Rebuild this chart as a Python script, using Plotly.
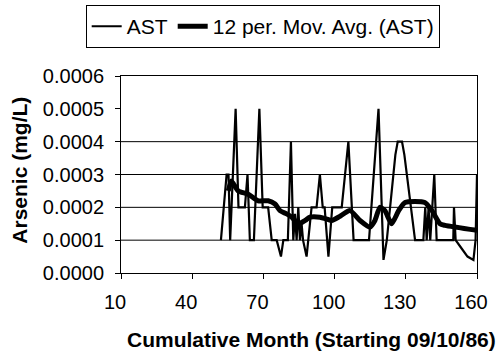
import plotly.graph_objects as go

# AST series (month, arsenic mg/L)
ast_month = [52.1, 54.5, 55.3, 56.0, 58.3, 59.5, 62.2, 63.3, 64.3, 66.0, 68.3, 69.7, 72.0, 73.5,
             75.6, 77.4, 78.4, 80.3, 81.6, 82.6, 83.3, 84.0, 84.7, 85.4, 86.1, 86.7, 88.2, 90.3,
             92.4, 93.8, 95.0, 95.8, 97.4, 99.0, 103.0, 105.8, 108.0, 114.5, 118.5, 120.6, 122.0,
             125.6, 126.6, 128.4, 129.4, 133.9, 137.4, 138.2, 138.8, 139.6, 140.3, 141.0, 142.0,
             143.0, 145.0, 150.0, 150.3, 151.0, 153.0, 156.0, 158.5, 159.4, 160.0]
ast_value = [0.0001, 0.0003, 0.0003, 0.0001, 0.0005, 0.0002, 0.0002, 0.0003, 0.0001, 0.0001,
             0.0005, 0.0002, 0.0002, 0.0001, 0.0001, 0.00005, 0.0001, 0.0001, 0.0004, 0.0001,
             0.00018, 0.0001, 0.0002, 0.0001, 0.00015, 0.0001, 0.00005, 0.0002, 0.0002, 0.0003,
             0.0002, 0.0002, 0.00005, 0.0002, 0.0002, 0.0004, 0.0001, 0.0001, 0.0005, 0.00004,
             0.0001, 0.00036, 0.0004, 0.0004, 0.00036, 0.0001, 0.0001, 0.0002, 0.0001, 0.0002,
             0.0001, 0.0002, 0.0003, 0.0001, 0.0001, 0.0001, 0.0002, 0.0001, 0.00008, 0.00005,
             0.00004, 0.0001, 0.0003]

# 12 per. moving average
ma_month = [55.2, 56.5, 57.5, 59.4, 63.6, 67.8, 72.0, 74.9, 77.0, 79.8, 82.0, 84.8, 87.6, 89.6,
            93.8, 96.5, 98.8, 102.3, 106.5, 110.7, 114.9, 117.0, 119.1, 121.2, 124.0, 127.0,
            129.7, 138.0, 141.0, 144.4, 146.5, 160.0]
ma_value = [0.00025, 0.00028, 0.00027, 0.00025, 0.00024, 0.00022, 0.00022, 0.00021, 0.00019,
            0.00018, 0.00017, 0.00015, 0.00016, 0.00017, 0.00017, 0.000165, 0.00016, 0.000173,
            0.00019, 0.00016, 0.00014, 0.00016, 0.0002, 0.00019, 0.00015, 0.00019, 0.000215,
            0.000215, 0.00019, 0.00015, 0.000145, 0.00013]

x_ticks = [10, 40, 70, 100, 130, 160]
y_ticks = [0.0, 0.0001, 0.0002, 0.0003, 0.0004, 0.0005, 0.0006]
y_ticktext = ["0.0000", "0.0001", "0.0002", "0.0003", "0.0004", "0.0005", "0.0006"]
grid_levels = [0.0001, 0.0002, 0.0003, 0.0004]

FONT = "Liberation Sans, Arial, sans-serif"

fig = go.Figure()
fig.add_trace(go.Scatter(x=ast_month, y=ast_value, mode="lines", name="AST",
                         line=dict(color="black", width=2.2)))
fig.add_trace(go.Scatter(x=ma_month, y=ma_value, mode="lines", name="12 per. Mov. Avg. (AST)",
                         line=dict(color="black", width=5, shape="spline", smoothing=0.6)))

for g in grid_levels:
    fig.add_shape(type="line", xref="paper", x0=0, x1=1, yref="y", y0=g, y1=g,
                  line=dict(color="black", width=1), layer="below")

fig.update_layout(
    width=498, height=360,
    margin=dict(l=121, r=21, t=76, b=87, autoexpand=False),
    paper_bgcolor="white", plot_bgcolor="white",
    font=dict(family=FONT, size=18, color="black"),
    showlegend=True,
    legend=dict(orientation="h", x=0.398, xanchor="center", y=1.36, yanchor="top",
                bordercolor="black", borderwidth=1, bgcolor="white",
                font=dict(size=21), tracegroupgap=0),
    xaxis=dict(range=[10, 160], tickmode="array", tickvals=x_ticks, showgrid=False,
               zeroline=False, showline=True, linecolor="black", linewidth=1, mirror=True,
               ticks="outside", ticklen=5, tickcolor="black", tickfont=dict(size=20),
               ticklabelstandoff=6, ticklabelshift=-6),
    yaxis=dict(range=[0, 0.0006], tickmode="array", tickvals=y_ticks, ticktext=y_ticktext,
               showgrid=False, zeroline=False, showline=True, linecolor="black", linewidth=1,
               mirror=True, ticks="outside", ticklen=5, tickcolor="black", tickfont=dict(size=20),
               ticklabelstandoff=7),
    annotations=[
        dict(text="<b>Cumulative Month (Starting 09/10/86)</b>", xref="paper", yref="paper",
             x=0.536, y=-0.34, xanchor="center", yanchor="middle", showarrow=False,
             font=dict(size=21)),
        dict(text="<b>Arsenic (mg/L)</b>", xref="paper", yref="paper",
             x=-0.284, y=0.524, xanchor="center", yanchor="middle", textangle=-90,
             showarrow=False, font=dict(size=21)),
    ],
)

fig.write_html("out.html", config={"displayModeBar": False},
               post_script="document.body.style.margin='0px';")
